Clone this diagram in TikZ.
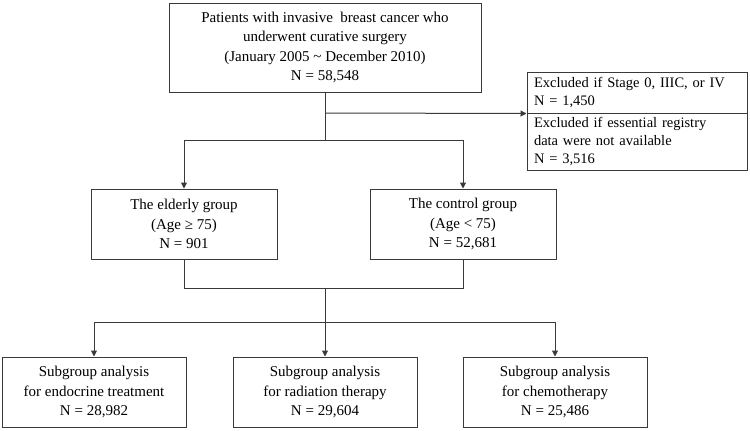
\documentclass[tikz,border=0pt]{standalone}
\usepackage{fontspec}
\setmainfont{Liberation Serif}
\usetikzlibrary{arrows.meta}
\definecolor{linec}{HTML}{3A3A3A}
\begin{document}
\begin{tikzpicture}[x=1pt,y=-1pt,
  box/.style={draw=linec, line width=1pt, align=center, inner sep=0pt,
    font=\fontsize{15}{19.5}\selectfont},
  exbox/.style={draw=linec, line width=1pt, align=left, inner sep=0pt,
    text width=206pt, minimum width=220pt,
    font=\fontsize{14.5}{18}\selectfont},
  ln/.style={draw=linec, line width=1pt},
  arr/.style={ln, -{Triangle[length=6pt,width=6pt]}}]
\useasboundingbox (0,0) rectangle (750,431);

\node[box, minimum width=312pt, minimum height=89pt] (top) at (325,47.5)
  {Patients with invasive\ \ breast cancer who\\underwent curative surgery\\(January 2005 \textasciitilde\ December 2010)\\N = 58,548};

\node[exbox, minimum height=41pt] (ex1) at (637,92.5)
  {Excluded if Stage 0, IIIC, or IV\\N = 1,450};
\node[exbox, minimum height=57pt] (ex2) at (637,141.5)
  {Excluded if essential registry\\data were not available\\N = 3,516};

\node[box, minimum width=186pt, minimum height=70pt] (eld) at (184,224)
  {The elderly group\\(Age ≥ 75)\\N = 901};
\node[box, minimum width=186pt, minimum height=70pt] (ctl) at (463,224)
  {The control group\\(Age < 75)\\N = 52,681};

\node[box, minimum width=184pt, minimum height=70pt] (s1) at (94,392)
  {Subgroup analysis\\for endocrine treatment\\N = 28,982};
\node[box, minimum width=184pt, minimum height=70pt] (s2) at (325,392)
  {Subgroup analysis\\for radiation therapy\\N = 29,604};
\node[box, minimum width=184pt, minimum height=70pt] (s3) at (555,392)
  {Subgroup analysis\\for chemotherapy\\N = 25,486};

\coordinate (j1) at (325,113);
\coordinate (j2) at (325,140);
\coordinate (j3) at (325,288);
\coordinate (j4) at (325,322);

\draw[ln] (top.south) -- (j2);
\draw[arr] (j1) -- (ex1.south west);
\draw[arr] (j2) -| (eld);
\draw[arr] (j2) -| (ctl);
\draw[ln] (eld.south) |- (j3);
\draw[ln] (ctl.south) |- (j3);
\draw[ln] (j3) -- (j4);
\draw[arr] (j4) -| (s1);
\draw[arr] (j4) -- (s2);
\draw[arr] (j4) -| (s3);
\end{tikzpicture}
\end{document}
